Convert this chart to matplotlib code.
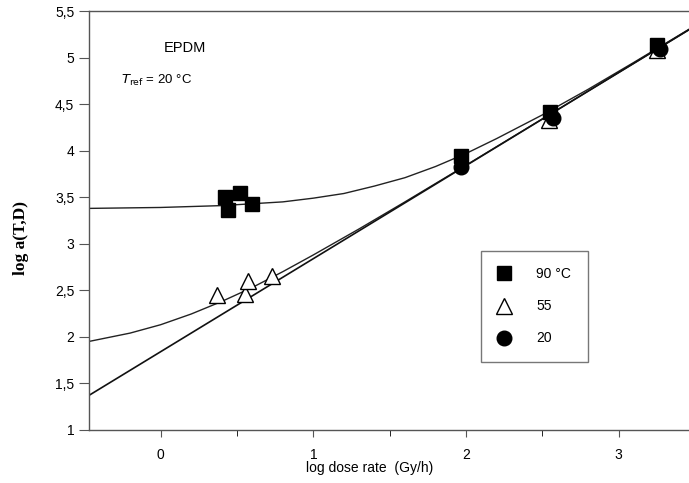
import numpy as np
import matplotlib
matplotlib.use("Agg")
import matplotlib.pyplot as plt
from matplotlib.ticker import FixedLocator, FuncFormatter

plt.rcParams['font.family'] = ['Liberation Sans', 'DejaVu Sans']

# measured points, log dose rate vs log a(T,D)
x90 = [0.42, 0.44, 0.52, 0.60, 1.97, 2.55, 3.25]
y90 = [3.50, 3.36, 3.55, 3.43, 3.94, 4.42, 5.14]
x55 = [0.37, 0.55, 0.57, 0.73, 2.54, 3.25]
y55 = [2.45, 2.46, 2.60, 2.65, 4.33, 5.08]
x20 = [1.965, 2.57, 3.27]
y20 = [3.83, 4.35, 5.09]

# fitted curves
cx90 = [-0.47, 0.0, 0.4, 0.8, 1.0, 1.2, 1.4, 1.6, 1.8, 2.0, 2.2, 2.5, 2.8, 3.1, 3.46]
cy90 = [3.38, 3.39, 3.41, 3.45, 3.49, 3.54, 3.62, 3.71, 3.83, 3.97, 4.13, 4.385, 4.66, 4.95, 5.305]
cx55 = [-0.47, -0.2, 0.0, 0.2, 0.4, 0.6, 0.8, 1.0, 1.3, 1.6, 2.0, 2.5, 3.46]
cy55 = [1.95, 2.04, 2.13, 2.245, 2.38, 2.53, 2.70, 2.88, 3.16, 3.45, 3.844, 4.342, 5.30]
lx = [-0.47, 3.46]
ly = [1.37, 5.30]

fig = plt.figure(figsize=(6.89, 4.83), dpi=100)
ax = fig.add_axes([0.129, 0.11, 0.871, 0.867])

ax.plot(cx90, cy90, color='#222222', lw=1.0)
ax.plot(cx55, cy55, color='#222222', lw=1.0)
ax.plot(lx, ly, color='#111111', lw=1.2)

ax.plot(x90, y90, 's', ms=10.5, color='black', mec='black', label='90 °C', zorder=4)
ax.plot(x55, y55, '^', ms=11.5, mfc='white', mec='black', mew=1.0, label='55', zorder=3)
ax.plot(x20, y20, 'o', ms=10.5, color='black', label='20', zorder=3.5)

ax.set_xlim(-0.47, 3.46)
ax.set_ylim(1, 5.5)

ax.xaxis.set_major_locator(FixedLocator([0, 1, 2, 3]))
ax.xaxis.set_minor_locator(FixedLocator([0.5, 1.5, 2.5]))
ax.yaxis.set_major_locator(FixedLocator(np.arange(1, 5.51, 0.5)))
ax.yaxis.set_major_formatter(FuncFormatter(lambda v, p: ('%g' % v).replace('.', ',')))
ax.tick_params(axis='both', labelsize=10, direction='out', width=0.8, color='#555555')
ax.tick_params(axis='y', length=7)
ax.tick_params(axis='x', which='major', length=5, pad=8)
ax.tick_params(axis='x', which='minor', length=4)

ax.spines['right'].set_visible(False)
for s in ['left', 'bottom', 'top']:
    ax.spines[s].set_color('#555555')
    ax.spines[s].set_linewidth(1.0)

ax.text(0.157, 5.1, 'EPDM', fontsize=10.5, ha='center', va='center')
ax.text(-0.26, 4.75, r'$T_{\rm ref}$ = 20 °C', fontsize=9.5, ha='left', va='center')

ax.set_xlabel('log dose rate  (Gy/h)', fontsize=10, labelpad=3)
ax.xaxis.set_label_coords(0.468, -0.075)
ax.set_ylabel('log a(T,D)', fontsize=12.5, fontweight='bold', family='Liberation Serif')
ax.yaxis.set_label_coords(-0.099, 0.457)

leg = ax.legend(loc='upper left', bbox_to_anchor=(0.653, 0.428), numpoints=1,
                fontsize=10, frameon=True, fancybox=False, borderpad=1.2,
                labelspacing=1.3, handlelength=1.0, handletextpad=1.8,
                borderaxespad=0)
leg.get_frame().set_edgecolor('#555555')
leg.get_frame().set_linewidth(1.0)

fig.savefig('out.png', dpi=100)
